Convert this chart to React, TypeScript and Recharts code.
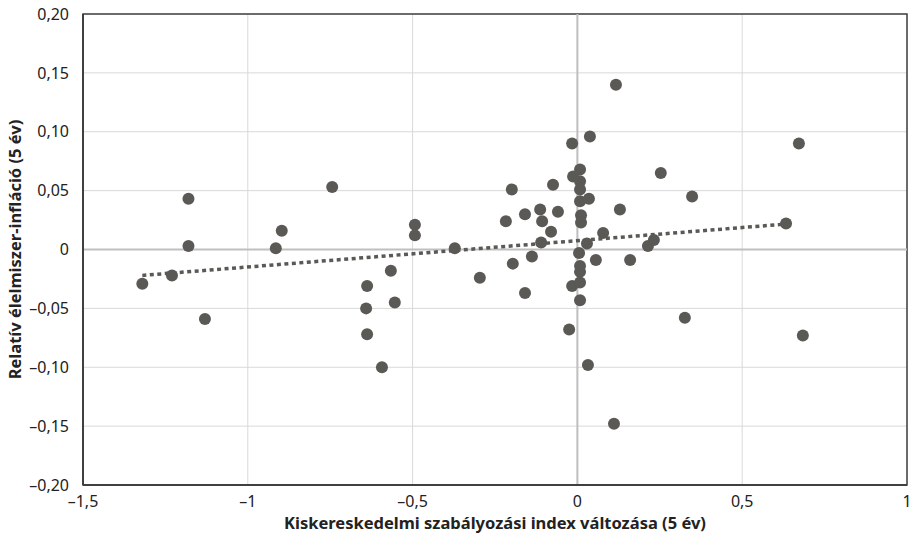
import React from "react";
import {
  ScatterChart,
  Scatter,
  XAxis,
  YAxis,
  CartesianGrid,
  ReferenceLine,
  ReferenceArea,
} from "recharts";

// change of the retail regulation index (5 years)
const xValues = [
  -1.32, -1.23, -1.18, -1.18, -1.13, -0.915, -0.897, -0.744, -0.638, -0.641,
  -0.638, -0.593, -0.566, -0.554, -0.493, -0.493, -0.372, -0.296, -0.217, -0.199,
  -0.196, -0.159, -0.159, -0.138, -0.113, -0.107, -0.11, -0.08, -0.074, -0.059,
  -0.025, -0.016, -0.016, -0.013, 0.008, 0.008, 0.008, 0.008, 0.011, 0.011,
  0.005, 0.008, 0.008, 0.008, 0.008, 0.029, 0.035, 0.038, 0.032, 0.056,
  0.078, 0.117, 0.111, 0.129, 0.16, 0.214, 0.232, 0.253, 0.326, 0.348,
  0.633, 0.672, 0.684,
];

// relative food inflation (5 years)
const yValues = [
  -0.029, -0.022, 0.043, 0.003, -0.059, 0.001, 0.016, 0.053, -0.031, -0.05,
  -0.072, -0.1, -0.018, -0.045, 0.021, 0.012, 0.001, -0.024, 0.024, 0.051,
  -0.012, 0.03, -0.037, -0.006, 0.034, 0.024, 0.006, 0.015, 0.055, 0.032,
  -0.068, 0.09, -0.031, 0.062, 0.068, 0.058, 0.051, 0.041, 0.029, 0.023,
  -0.003, -0.014, -0.019, -0.028, -0.043, 0.005, 0.043, 0.096, -0.098, -0.009,
  0.014, 0.14, -0.148, 0.034, -0.009, 0.003, 0.008, 0.065, -0.058, 0.045,
  0.022, 0.09, -0.073,
];

// linear trend line endpoints
const trendX = [-1.32, 0.65];
const trendY = [-0.022, 0.022];

const xTicks = [-1.5, -1, -0.5, 0, 0.5, 1];
const yTicks = [-0.2, -0.15, -0.1, -0.05, 0, 0.05, 0.1, 0.15, 0.2];

const points = xValues.map((x, i) => ({ x, y: yValues[i] }));
const trend = trendX.map((x, i) => ({ x, y: trendY[i] }));

const FONT = "'Noto Sans', sans-serif";
const DOT = "#5a5956";

const fmt = (v: number, digits?: number) => {
  if (v === 0) return "0";
  const s = digits !== undefined ? Math.abs(v).toFixed(digits) : String(Math.abs(v));
  return (v < 0 ? "\u2013" : "") + s.replace(".", ",");
};

const Dot = (p: any) => <circle cx={p.cx} cy={p.cy} r={6} fill={DOT} />;

export default function App() {
  return (
    <div style={{ position: "absolute", left: 0, top: 0, background: "#fff" }}>
      <ScatterChart
        width={911}
        height={540}
        margin={{ top: 14, right: 4, bottom: 0, left: 23 }}
        style={{ fontFamily: FONT }}
      >
        <CartesianGrid stroke="#d9d9d9" strokeWidth={1} />
        <XAxis
          type="number"
          dataKey="x"
          domain={[-1.5, 1]}
          ticks={xTicks}
          tickFormatter={(v) => fmt(v)}
          tick={{ fill: "#222", fontSize: 16 }}
          tickLine={false}
          axisLine={{ stroke: "#404040", strokeWidth: 2 }}
          height={55}
          tickMargin={5}
          allowDataOverflow
          label={{
            value: "Kiskereskedelmi szabályozási index változása (5 év)",
            position: "insideBottom",
            offset: 11,
            fill: "#222",
            fontSize: 16.5,
            fontWeight: "bold",
          }}
        />
        <YAxis
          type="number"
          dataKey="y"
          domain={[-0.2, 0.2]}
          ticks={yTicks}
          tickFormatter={(v) => fmt(v, 2)}
          tick={{ fill: "#222", fontSize: 16 }}
          tickLine={false}
          axisLine={{ stroke: "#404040", strokeWidth: 2 }}
          width={60}
          tickMargin={8}
          allowDataOverflow
          label={{
            value: "Relatív élelmiszer-infláció (5 év)",
            angle: -90,
            position: "insideLeft",
            offset: -8,
            style: { textAnchor: "middle" },
            fill: "#222",
            fontSize: 16.5,
            fontWeight: "bold",
          }}
        />
        <ReferenceLine x={0} stroke="#bfbfbf" strokeWidth={2} />
        <ReferenceLine y={0} stroke="#bfbfbf" strokeWidth={2} />
        <Scatter data={points} shape={Dot} isAnimationActive={false} />
        <Scatter
          data={trend}
          shape={() => null}
          line={{ stroke: DOT, strokeWidth: 3.5, strokeDasharray: "4 3.5" }}
          isAnimationActive={false}
        />
        <ReferenceArea
          x1={-1.5}
          x2={1}
          y1={-0.2}
          y2={0.2}
          fill="none"
          stroke="#404040"
          strokeWidth={1.5}
          ifOverflow="visible"
        />
      </ScatterChart>
    </div>
  );
}
